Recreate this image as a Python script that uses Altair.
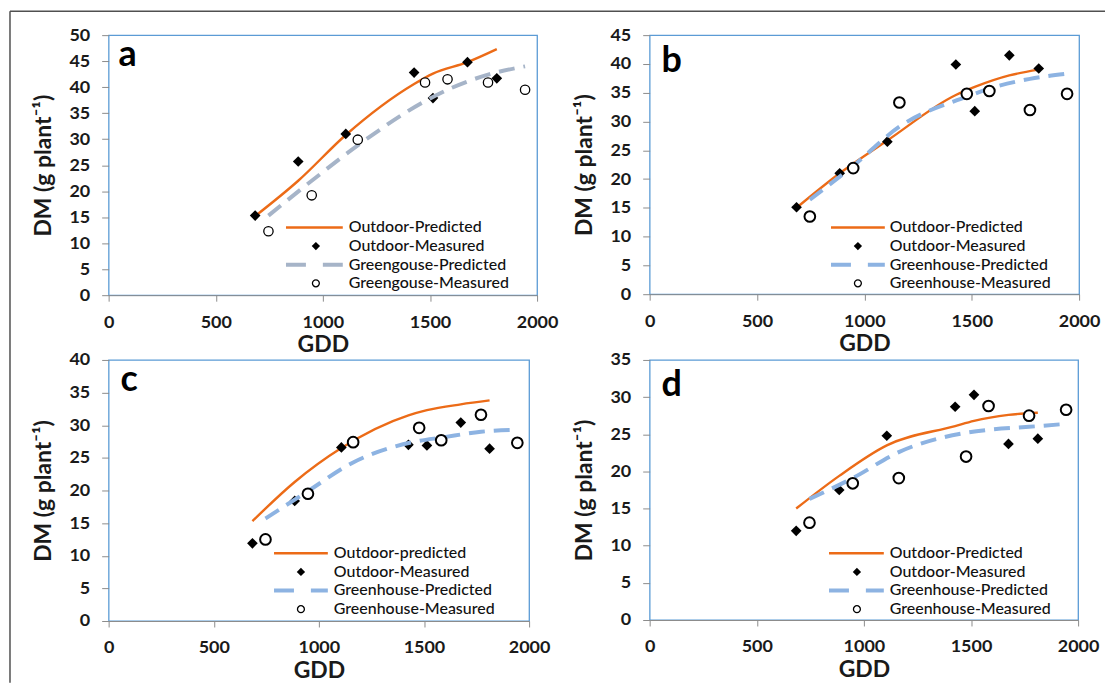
import altair as alt
import pandas as pd

# ---------------- data ----------------
GDD_OUT = [684, 885, 1107, 1426, 1514, 1675, 1812]
GDD_GH = [746, 948, 1163, 1477, 1582, 1771, 1944]

OUT_PRED_A = [15.2, 22.0, 30.8, 40.6, 42.6, 44.8, 47.3]
OUT_MEAS_A = [15.3, 25.7, 31.0, 42.8, 37.9, 44.8, 41.7]
GH_PRED_A = [15.3, 22.0, 28.8, 37.3, 39.5, 42.4, 44.0]
GH_MEAS_A = [12.3, 19.2, 29.9, 40.9, 41.5, 40.9, 39.5]

OUT_PRED_B = [15.0, 21.0, 26.7, 34.6, 36.0, 38.0, 39.0]
OUT_MEAS_B = [15.1, 21.0, 26.5, 39.9, 31.8, 41.5, 39.2]
GH_PRED_B = [16.4, 22.3, 29.1, 34.3, 35.7, 37.4, 38.3]
GH_MEAS_B = [13.5, 21.9, 33.3, 34.8, 35.3, 32.0, 34.8]

OUT_PRED_C = [15.3, 21.3, 26.5, 31.5, 32.3, 33.2, 33.8]
OUT_MEAS_C = [11.9, 18.4, 26.6, 27.0, 26.9, 30.4, 26.4]
GH_PRED_C = [15.7, 19.9, 24.3, 27.6, 28.1, 29.0, 29.3]
GH_MEAS_C = [12.5, 19.5, 27.4, 29.6, 27.7, 31.6, 27.3]

OUT_PRED_D = [15.0, 19.4, 23.5, 26.1, 26.8, 27.6, 27.9]
OUT_MEAS_D = [12.0, 17.5, 24.8, 28.7, 30.3, 23.7, 24.4]
GH_PRED_D = [16.3, 19.1, 22.6, 25.2, 25.6, 26.0, 26.4]
GH_MEAS_D = [13.1, 18.4, 19.1, 22.0, 28.8, 27.5, 28.3]

Y_MAX = {"a": 50, "b": 45, "c": 40, "d": 35}
X_TICKS = [0, 500, 1000, 1500, 2000]

LEGEND_A = ["Outdoor-Predicted", "Outdoor-Measured", "Greengouse-Predicted", "Greengouse-Measured"]
LEGEND_B = ["Outdoor-Predicted", "Outdoor-Measured", "Greenhouse-Predicted", "Greenhouse-Measured"]
LEGEND_C = ["Outdoor-predicted", "Outdoor-Measured", "Greenhouse-Predicted", "Greenhouse-Measured"]
LEGEND_D = ["Outdoor-Predicted", "Outdoor-Measured", "Greenhouse-Predicted", "Greenhouse-Measured"]

Y_TITLE = "DM (g plant\u207b\u00b9)"
X_TITLE = "GDD"

ORANGE = "#EC6B17"
GRAY_BLUE = "#A6B4C8"
LIGHT_BLUE = "#8DB3E2"
FONT = "Lato"


def df(xs, ys):
    return pd.DataFrame({"gdd": xs, "dm": ys})


def panel(letter, op, om, gp, gm, labels, dash_color, w, h,
          leg, letter_xy, circ_size, circ_sw, frame=False):
    ymax = Y_MAX[letter]
    x = alt.X("gdd:Q", scale=alt.Scale(domain=[0, 2000], nice=False),
              axis=alt.Axis(values=X_TICKS, format="d", title=X_TITLE))
    y = alt.Y("dm:Q", scale=alt.Scale(domain=[0, ymax], nice=False),
              axis=alt.Axis(values=list(range(0, ymax + 1, 5)), format="d", title=Y_TITLE))

    l_out = alt.Chart(df(GDD_OUT, op)).mark_line(
        color=ORANGE, strokeWidth=2.4, interpolate="monotone").encode(x=x, y=y)
    p_out = alt.Chart(df(GDD_OUT, om)).mark_point(
        shape="diamond", filled=True, color="black", size=115, opacity=1).encode(x=x, y=y)
    l_gh = alt.Chart(df(GDD_GH, gp)).mark_line(
        color=dash_color, strokeWidth=4, strokeDash=[16, 9], interpolate="monotone").encode(x=x, y=y)
    p_gh = alt.Chart(df(GDD_GH, gm)).mark_circle(
        fill="white", stroke="black", strokeWidth=circ_sw, size=circ_size, opacity=1).encode(x=x, y=y)

    # legend (drawn inside the plot)
    lx1, lx2, sx, tx, ly0, dy = leg
    legdf = pd.DataFrame({"label": labels, "row": [0, 1, 2, 3]})
    base = alt.Chart(legdf).transform_calculate(py=f"{ly0} + datum.row * {dy}")
    ypix = alt.Y("py:Q", scale=None, axis=None)
    leg_text = base.mark_text(align="left", baseline="middle", font=FONT, fontSize=16,
                              fontWeight=500, color="#111111").encode(
        x=alt.value(tx), y=ypix, text="label:N")
    leg_l1 = base.transform_filter("datum.row == 0").mark_rule(
        color=ORANGE, strokeWidth=2.6).encode(x=alt.value(lx1), x2=alt.value(lx2), y=ypix)
    leg_p1 = base.transform_filter("datum.row == 1").mark_point(
        shape="diamond", filled=True, color="black", size=70, opacity=1).encode(x=alt.value(sx), y=ypix)
    leg_l2 = base.transform_filter("datum.row == 2").mark_rule(
        color=dash_color, strokeWidth=4, strokeDash=[20, 17]).encode(x=alt.value(lx1), x2=alt.value(lx2), y=ypix)
    leg_p2 = base.transform_filter("datum.row == 3").mark_circle(
        fill="white", stroke="black", strokeWidth=1.3, size=48, opacity=1).encode(x=alt.value(sx), y=ypix)

    let = alt.Chart(pd.DataFrame({"t": [letter]})).mark_text(
        align="left", baseline="alphabetic", font=FONT, fontSize=36, fontWeight="bold",
        color="black").encode(x=alt.value(letter_xy[0]), y=alt.value(letter_xy[1]), text="t:N")

    layers = [l_out, p_out, l_gh, p_gh, leg_l1, leg_p1, leg_l2, leg_p2, leg_text, let]
    if frame:
        fd = pd.DataFrame({"k": [0]})
        v = alt.Chart(fd).mark_rule(color="#505050", strokeWidth=1.5).encode(
            x=alt.value(-99), y=alt.value(-24), y2=alt.value(650))
        t = alt.Chart(fd).mark_rule(color="#505050", strokeWidth=1.5).encode(
            x=alt.value(-99), x2=alt.value(1000), y=alt.value(-24))
        layers += [v, t]
    return alt.layer(*layers).properties(width=w, height=h)


pa = panel("a", OUT_PRED_A, OUT_MEAS_A, GH_PRED_A, GH_MEAS_A, LEGEND_A, GRAY_BLUE, 430, 261,
           (178, 235, 208, 241, 193, 18.7), (10, 31), 88, 1.3, frame=True)
pb = panel("b", OUT_PRED_B, OUT_MEAS_B, GH_PRED_B, GH_MEAS_B, LEGEND_B, LIGHT_BLUE, 431, 260,
           (182, 236, 209, 241, 193, 18.7), (12, 37), 115, 2.0)
pc = panel("c", OUT_PRED_C, OUT_MEAS_C, GH_PRED_C, GH_MEAS_C, LEGEND_C, LIGHT_BLUE, 422, 262,
           (166, 220, 193, 226, 194, 18.7), (12, 31), 115, 2.0)
pd_ = panel("d", OUT_PRED_D, OUT_MEAS_D, GH_PRED_D, GH_MEAS_D, LEGEND_D, LIGHT_BLUE, 430, 261,
            (180, 235, 208, 241, 194, 18.7), (12, 36), 115, 2.0)

chart = alt.concat(pa, pb, pc, pd_, columns=2, spacing={"row": 65, "column": 113},
                   bounds="flush").properties(padding=0).configure_view(
    stroke="#5B9BD5", strokeWidth=1.3
).configure_axis(
    grid=False, labelFont=FONT, labelFontSize=18, labelFontWeight="bold", labelColor="#1a1a1a",
    tickColor="#8c8c8c", titleFont=FONT, titleFontSize=23, titleFontWeight="bold",
    titleColor="#1a1a1a", domainColor="#8c8c8c"
).configure_axisX(
    tickSize=6, labelPadding=12, titlePadding=3, labelFlush=False
).configure_axisY(
    domain=False, tickSize=7, labelPadding=12, titlePadding=13
)

chart.save("out.html", embed_options={"renderer": "svg", "actions": False})
